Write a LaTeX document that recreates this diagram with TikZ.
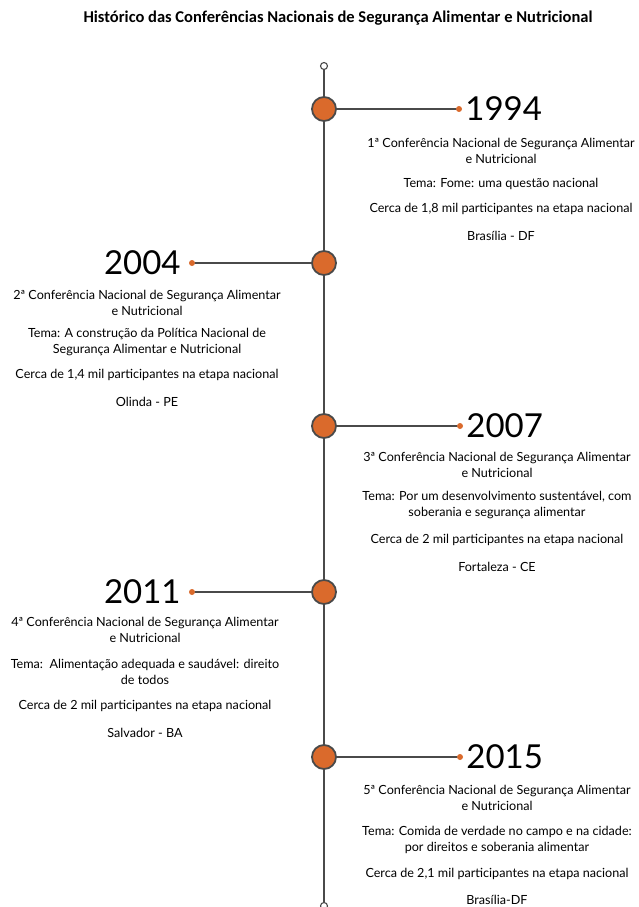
\documentclass[tikz,border=0pt]{standalone}
\usepackage{fontspec}
\setmainfont{Lato}
\newfontfamily\titulofont{Carlito}
\definecolor{laranja}{HTML}{DA6A2C}
\definecolor{cinza}{HTML}{4A4A4A}
\begin{document}
\begin{tikzpicture}[x=1pt,y=-1pt,line cap=round,
  marco/.style={circle,draw=cinza,line width=1.8pt,fill=laranja,minimum size=24pt,inner sep=0pt},
  ponto/.style={circle,fill=laranja,minimum size=6pt,inner sep=0pt},
  ponta/.style={circle,draw=cinza,line width=1.1pt,fill=white,minimum size=7pt,inner sep=0pt},
  ano/.style={font=\fontsize{33}{33}\selectfont,inner sep=0pt},
  texto/.style={align=center,font=\fontsize{12.6}{16}\selectfont,anchor=north,inner sep=0pt}]
\useasboundingbox (0,0) rectangle (638,907);
\node[font=\titulofont\bfseries\fontsize{16.5}{18}\selectfont] (titulo) at (338,18)
  {Histórico das Conferências Nacionais de Segurança Alimentar e Nutricional};
% eixo
\node[ponta] (inicio) at (324,66) {};
\node[ponta] (fim) at (324,906) {};
\draw[cinza,line width=1.8pt] (inicio) -- (fim);
% marcos
\node[marco] (m1994) at (324,109) {};
\node[marco] (m2004) at (324,263) {};
\node[marco] (m2007) at (324,426) {};
\node[marco] (m2011) at (324,592) {};
\node[marco] (m2015) at (324,757) {};
\node[ponto] (p1994) at (459,109) {};
\node[ponto] (p2004) at (192,263) {};
\node[ponto] (p2007) at (460,426) {};
\node[ponto] (p2011) at (192,592) {};
\node[ponto] (p2015) at (460,757) {};
\draw[cinza,line width=1.3pt] (m1994) -- (p1994);
\draw[cinza,line width=1.3pt] (m2004) -- (p2004);
\draw[cinza,line width=1.3pt] (m2007) -- (p2007);
\draw[cinza,line width=1.3pt] (m2011) -- (p2011);
\draw[cinza,line width=1.3pt] (m2015) -- (p2015);
% anos
\node[ano,anchor=west] (a1994) at ([xshift=3pt]p1994.east) {1994};
\node[ano,anchor=east] (a2004) at ([xshift=-8pt]p2004.west) {2004};
\node[ano,anchor=west] (a2007) at ([xshift=3pt]p2007.east) {2007};
\node[ano,anchor=east] (a2011) at ([xshift=-8pt]p2011.west) {2011};
\node[ano,anchor=west] (a2015) at ([xshift=3pt]p2015.east) {2015};
% textos
\node[texto] (t1994) at (501,138) {1ª Conferência Nacional de Segurança Alimentar\\e Nutricional\\[8pt]
  Tema: Fome: uma questão nacional\\[9pt]
  Cerca de 1,8 mil participantes na etapa nacional\\[12pt]
  Brasília - DF};
\node[texto] (t2004) at (147,290) {2ª Conferência Nacional de Segurança Alimentar\\e Nutricional\\[6pt]
  Tema: A construção da Política Nacional de\\Segurança Alimentar e Nutricional\\[9pt]
  Cerca de 1,4 mil participantes na etapa nacional\\[12pt]
  Olinda - PE};
\node[texto] (t2007) at (497,452) {3ª Conferência Nacional de Segurança Alimentar\\e Nutricional\\[7pt]
  Tema: Por um desenvolvimento sustentável, com\\soberania e segurança alimentar\\[11pt]
  Cerca de 2 mil participantes na etapa nacional\\[12pt]
  Fortaleza - CE};
\node[texto] (t2011) at (145,617) {4ª Conferência Nacional de Segurança Alimentar\\e Nutricional\\[10pt]
  Tema:\ \ Alimentação adequada e saudável: direito\\de todos\\[9pt]
  Cerca de 2 mil participantes na etapa nacional\\[12pt]
  Salvador - BA};
\node[texto] (t2015) at (497,785) {5ª Conferência Nacional de Segurança Alimentar\\e Nutricional\\[9pt]
  Tema: Comida de verdade no campo e na cidade:\\por direitos e soberania alimentar\\[10pt]
  Cerca de 2,1 mil participantes na etapa nacional\\[11pt]
  Brasília-DF};
\end{tikzpicture}
\end{document}
